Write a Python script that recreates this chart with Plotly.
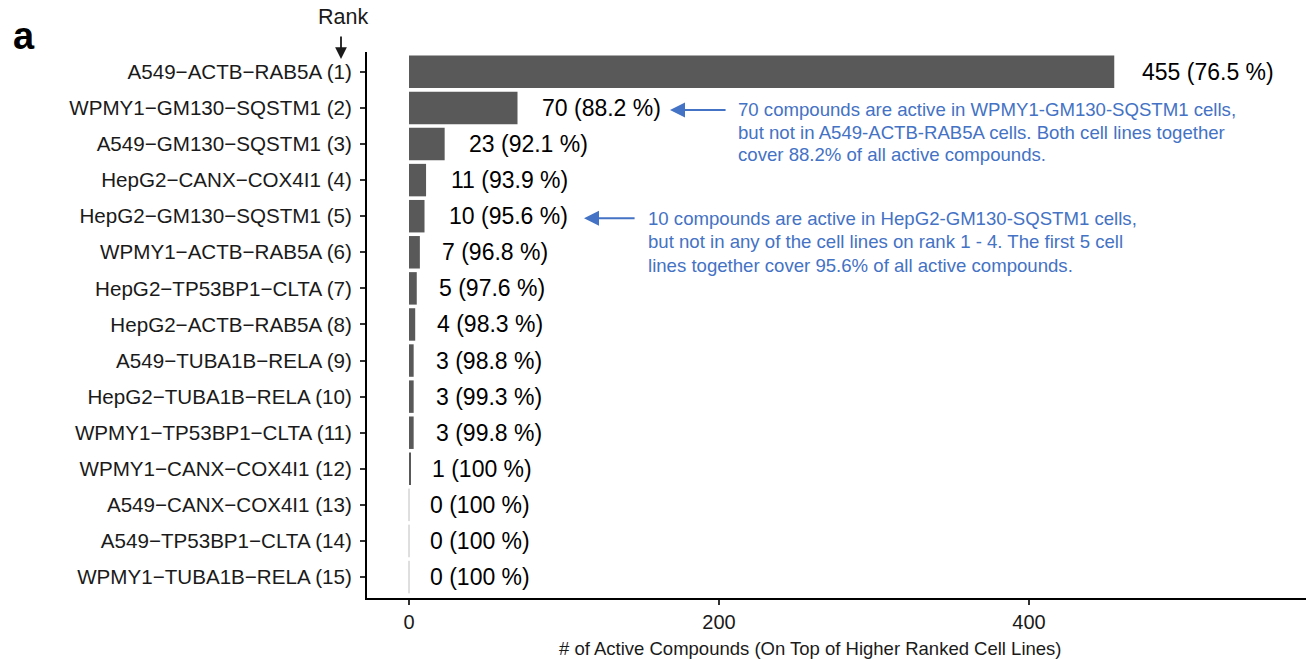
import plotly.graph_objects as go

# Cell lines ordered by rank and their additional active compounds
cell_lines = [
    "A549−ACTB−RAB5A (1)",
    "WPMY1−GM130−SQSTM1 (2)",
    "A549−GM130−SQSTM1 (3)",
    "HepG2−CANX−COX4I1 (4)",
    "HepG2−GM130−SQSTM1 (5)",
    "WPMY1−ACTB−RAB5A (6)",
    "HepG2−TP53BP1−CLTA (7)",
    "HepG2−ACTB−RAB5A (8)",
    "A549−TUBA1B−RELA (9)",
    "HepG2−TUBA1B−RELA (10)",
    "WPMY1−TP53BP1−CLTA (11)",
    "WPMY1−CANX−COX4I1 (12)",
    "A549−CANX−COX4I1 (13)",
    "A549−TP53BP1−CLTA (14)",
    "WPMY1−TUBA1B−RELA (15)",
]
active_compounds = [455, 70, 23, 11, 10, 7, 5, 4, 3, 3, 3, 1, 0, 0, 0]
cumulative_pct = ["76.5", "88.2", "92.1", "93.9", "95.6", "96.8", "97.6",
                  "98.3", "98.8", "99.3", "99.8", "100", "100", "100", "100"]
x_ticks = [0, 200, 400]

note_rank2 = ["70 compounds are active in WPMY1-GM130-SQSTM1 cells,",
              "but not in A549-ACTB-RAB5A cells. Both cell lines together",
              "cover 88.2% of all active compounds."]
note_rank5 = ["10 compounds are active in HepG2-GM130-SQSTM1 cells,",
              "but not in any of the cell lines on rank 1 - 4. The first 5 cell",
              "lines together cover 95.6% of all active compounds."]

FONT = "Arial, Liberation Sans, sans-serif"
BLUE = "#4472C4"
LABEL_SIZE = 23

# Approximate Arial advance widths, used to push labels right by 20% of their width
ADV = {" ": 0.278, "(": 0.333, ")": 0.333, ".": 0.278, "%": 0.889}


def text_width(s, size):
    return sum(ADV.get(c, 0.556) for c in s) * size


L, R, T, B = 367, 0, 52, 61
W, H = 1306, 659
PW, PH = W - L - R, H - T - B


def px(xp):
    return (xp - L) / PW


def py(yp):
    return (H - B - yp) / PH


fig = go.Figure()
fig.add_trace(go.Bar(
    x=active_compounds,
    y=cell_lines,
    orientation="h",
    width=0.9,
    marker=dict(
        color="#595959",
        line=dict(
            color=["#d4d4d4" if v == 0 else "rgba(0,0,0,0)" for v in active_compounds],
            width=[1 if v == 0 else 0 for v in active_compounds],
        ),
    ),
    hoverinfo="x+y",
))

annotations = []
for name, v, pct in zip(cell_lines, active_compounds, cumulative_pct):
    label = f"{v} ({pct} %)"
    annotations.append(dict(
        x=v, y=name, xref="x", yref="y", text=label, showarrow=False,
        xanchor="left", yanchor="middle",
        xshift=0.2 * text_width(label, LABEL_SIZE) - 1,
        font=dict(family=FONT, size=LABEL_SIZE, color="black"),
    ))

# Explanatory notes with arrows pointing at the labels of rank 2 and rank 5
for lines, row, x_text, spacing, tip, tail in [
    (note_rank2, cell_lines[1], 211.0, 22.5, 168.4, 205.2),
    (note_rank5, cell_lines[4], 153.0, 23.5, 112.9, 146.5),
]:
    for i, line in enumerate(lines):
        annotations.append(dict(
            x=x_text, y=row, xref="x", yref="y", text=line, showarrow=False,
            xanchor="left", yanchor="middle", yshift=-i * spacing - 2,
            font=dict(family=FONT, size=18.6, color=BLUE),
        ))
    annotations.append(dict(
        x=tip, y=row, xref="x", yref="y", ax=tail, ay=row, axref="x", ayref="y",
        text="", showarrow=True, arrowhead=2, arrowsize=1.5, arrowwidth=2,
        arrowcolor=BLUE, yshift=-2,
    ))

# Panel letter, rank marker and axis title
annotations += [
    dict(x=px(24), y=py(36), xref="paper", yref="paper", text="<b>a</b>",
         showarrow=False, xanchor="center", yanchor="middle",
         font=dict(family=FONT, size=38, color="black")),
    dict(x=px(343), y=py(17), xref="paper", yref="paper", text="Rank",
         showarrow=False, xanchor="center", yanchor="middle",
         font=dict(family=FONT, size=21.5, color="#1a1a1a")),
    dict(x=px(341), y=py(59), xref="paper", yref="paper", ax=0, ay=-24,
         text="", showarrow=True, arrowhead=2, arrowsize=1.3, arrowwidth=1.8,
         arrowcolor="#1a1a1a"),
    dict(x=px(810), y=py(648), xref="paper", yref="paper",
         text="# of Active Compounds (On Top of Higher Ranked Cell Lines)",
         showarrow=False, xanchor="center", yanchor="middle",
         font=dict(family=FONT, size=18.5, color="#1a1a1a")),
]

fig.update_layout(
    width=W, height=H,
    margin=dict(l=L, r=R, t=T, b=B, pad=0),
    plot_bgcolor="white", paper_bgcolor="white",
    showlegend=False,
    bargap=0.1,
    annotations=annotations,
    xaxis=dict(
        range=[-27.1, 578.7],
        tickvals=x_ticks,
        ticks="outside", ticklen=5, tickwidth=1.5, tickcolor="#333333",
        showline=True, linecolor="black", linewidth=2,
        showgrid=False, zeroline=False,
        tickfont=dict(family=FONT, size=20, color="#1a1a1a"),
    ),
    yaxis=dict(
        type="category",
        categoryorder="array", categoryarray=cell_lines,
        range=[14.58, -0.55],
        ticks="outside", ticklen=5, tickwidth=1.5, tickcolor="#333333",
        ticklabelstandoff=4,
        showline=True, linecolor="black", linewidth=2,
        showgrid=False, zeroline=False,
        tickfont=dict(family=FONT, size=20.6, color="#1a1a1a"),
    ),
)

fig.write_html("out.html")
